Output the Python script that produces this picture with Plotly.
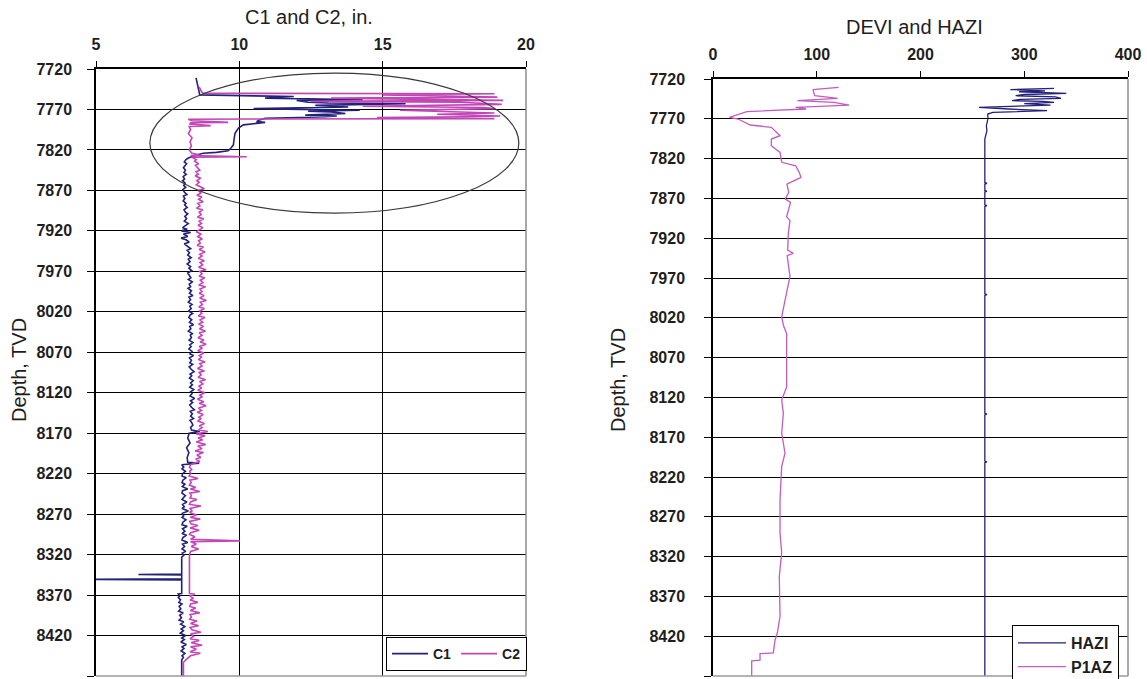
import plotly.graph_objects as go

# ---------------- data ----------------
c1_depth = [7731, 7743, 7752, 7754, 7756, 7758, 7759, 7761, 7762, 7763, 7764, 7765, 7767, 7769, 7770,
            7771, 7772, 7773, 7775, 7776, 7777, 7778, 7779, 7780, 7781, 7783, 7785, 7786, 7787, 7789,
            7793, 7799.5, 7806, 7814, 7818, 7821, 7823, 7824, 7826, 7828, 7830,
            7832, 7835, 7837, 7840, 7842, 7845, 7848, 7850, 7853, 7856, 7858, 7861, 7864, 7866, 7869,
            7872, 7875, 7877, 7880, 7883, 7886, 7888, 7891, 7894, 7897, 7899, 7902, 7905, 7908, 7911,
            7913, 7916, 7918, 7920, 7922, 7924, 7927, 7929, 7931, 7934, 7936, 7939, 7942, 7944, 7947,
            7950, 7953, 7955, 7958, 7961, 7964, 7966, 7969, 7972, 7975, 7978, 7980, 7983, 7986, 7989,
            7991, 7994, 7997, 8000, 8002, 8005, 8008, 8011, 8013, 8016, 8019, 8022, 8024, 8027, 8030,
            8033, 8036, 8038, 8041, 8044, 8047, 8049, 8052, 8055, 8058, 8061, 8063, 8066, 8069, 8072,
            8074, 8077, 8080, 8083, 8085, 8088, 8091, 8094, 8097, 8099, 8102, 8105, 8108, 8110, 8113,
            8116, 8119, 8121, 8124, 8127, 8130, 8132, 8135, 8138, 8141, 8143, 8146, 8149, 8152, 8154,
            8157, 8160, 8163, 8166, 8168, 8170, 8176, 8182, 8188, 8194, 8200, 8206, 8207, 8209,
            8212, 8214, 8217, 8220, 8223, 8225, 8228, 8231, 8233, 8236, 8239, 8241, 8244, 8247, 8250,
            8252, 8255, 8258, 8261, 8263, 8266, 8269, 8272, 8274, 8277, 8280, 8283, 8285, 8288, 8291,
            8294, 8296, 8299, 8302, 8305, 8307, 8310, 8313, 8316, 8318, 8321, 8323,
            8335, 8344, 8344.5, 8345, 8350, 8350.6, 8351.2, 8360, 8368, 8368.5,
            8371, 8373, 8376, 8379, 8381, 8384, 8387, 8390, 8392, 8395, 8398, 8401, 8403, 8406, 8409,
            8412, 8414, 8417, 8420, 8423, 8425, 8428, 8431, 8434, 8436, 8439, 8442, 8445, 8447, 8450,
            8470]
c1_value = [8.49, 8.55, 8.62, 11.9, 10.9, 14.3, 12.0, 12.4, 13.1, 15.8, 13.0, 12.65, 13.8, 10.5, 12.2,
            14.2, 12.4, 13.2, 13.7, 12.6, 12.3, 13.4, 13.0, 12.1, 10.9, 10.7, 10.6, 10.9, 10.6, 10.14,
            9.97, 9.85, 9.82, 9.79, 9.7, 9.61, 9.2, 8.74, 8.55, 8.39, 8.22,
            8.14, 8.08, 8.16, 8.1, 8.05, 8.12, 8.07, 8.15, 8.04, 8.09, 8.02, 8.11, 8.06, 8.13, 8.03,
            8.08, 8.17, 8.05, 8.1, 8.04, 8.14, 8.09, 8.18, 8.07, 8.12, 8.2, 8.1, 8.16, 8.08, 8.22,
            8.12, 8.02, 8.18, 7.98, 8.3, 8.05, 8.2, 7.97, 8.14, 8.25, 8.08, 8.2, 8.3, 8.18, 8.26,
            8.2, 8.32, 8.22, 8.28, 8.18, 8.3, 8.24, 8.34, 8.2, 8.27, 8.31, 8.22, 8.36, 8.25, 8.3,
            8.21, 8.33, 8.26, 8.38, 8.24, 8.3, 8.22, 8.35, 8.27, 8.32, 8.23, 8.37, 8.28, 8.24, 8.34,
            8.26, 8.4, 8.27, 8.31, 8.22, 8.36, 8.29, 8.33, 8.25, 8.38, 8.27, 8.32, 8.24, 8.35, 8.28,
            8.4, 8.26, 8.33, 8.27, 8.37, 8.25, 8.32, 8.42, 8.28, 8.34, 8.26, 8.39, 8.3, 8.36, 8.27,
            8.41, 8.3, 8.35, 8.28, 8.44, 8.3, 8.37, 8.27, 8.33, 8.43, 8.29, 8.36, 8.3, 8.4, 8.28,
            8.34, 8.38, 8.3, 8.33, 8.62, 8.25, 8.2, 8.28, 8.16, 8.24, 8.18, 8.2, 8.6, 7.99,
            8.06, 8.0, 8.12, 8.02, 8.0, 8.15, 8.03, 8.0, 8.1, 8.01, 8.2, 8.02, 8.0, 8.12, 8.04,
            8.0, 8.17, 8.02, 8.08, 8.0, 8.22, 8.01, 8.06, 8.0, 8.14, 8.03, 8.0, 8.18, 8.02, 8.1,
            8.0, 8.16, 8.03, 8.0, 8.2, 8.02, 8.09, 8.0, 8.13, 8.01, 8.06, 7.99,
            7.99, 7.99, 6.48, 7.99, 7.99, 4.0, 7.99, 7.99, 7.99, 7.87,
            7.92, 7.87, 7.95, 7.89, 8.0, 7.9, 7.96, 7.88, 8.04, 7.92, 7.98, 7.9, 8.06, 7.95, 8.1,
            7.97, 8.05, 7.94, 8.12, 7.99, 8.08, 7.96, 8.15, 8.0, 8.07, 7.97, 8.1, 8.0, 8.05, 7.99,
            7.99]

c2_depth = [7742, 7748, 7750, 7750.6, 7752, 7754.7, 7756, 7756.8, 7758.8, 7760, 7761, 7763.7, 7765, 7766,
            7767.5, 7769, 7771, 7772.5, 7774.4, 7776, 7778, 7779, 7780, 7781.3, 7782, 7784, 7786, 7786.5,
            7788, 7790, 7791, 7795, 7800, 7805, 7810, 7815, 7820, 7824, 7826, 7827, 7828.4, 7829,
            7832, 7834, 7837, 7839, 7842, 7845, 7847, 7850, 7852, 7855, 7858, 7860, 7863, 7866, 7868,
            7870, 7873, 7876, 7878, 7881, 7884, 7886, 7889, 7892, 7894, 7897, 7900, 7903, 7905, 7908,
            7911, 7913, 7916, 7919, 7921, 7924, 7927, 7930, 7932, 7935, 7938, 7940, 7943, 7946, 7949,
            7951, 7954, 7957, 7959, 7962, 7965, 7968, 7970, 7973, 7976, 7978, 7981, 7984, 7987, 7989,
            7992, 7995, 7997, 8000, 8003, 8006, 8008, 8011, 8014, 8016, 8019, 8022, 8025, 8027, 8030,
            8033, 8035, 8038, 8041, 8044, 8046, 8049, 8052, 8055, 8057, 8060, 8063, 8065, 8068, 8071,
            8074, 8076, 8079, 8082, 8084, 8087, 8090, 8093, 8095, 8098, 8101, 8104, 8106, 8109, 8112,
            8114, 8117, 8120, 8123, 8125, 8128, 8131, 8133, 8136, 8139, 8142, 8144, 8147, 8150, 8152,
            8155, 8158, 8161, 8163, 8166,
            8168, 8171, 8173, 8176, 8178, 8181, 8184, 8186, 8189, 8192, 8194, 8197, 8200, 8202, 8205,
            8207, 8209, 8212, 8215, 8217, 8220, 8223, 8226, 8228, 8231, 8234, 8237, 8239, 8242, 8244,
            8247, 8250, 8252, 8255, 8258, 8260, 8263, 8266, 8268, 8271, 8274, 8276, 8279, 8282, 8284,
            8287, 8290, 8293, 8295, 8298, 8301, 8303, 8304, 8307, 8310, 8313, 8316, 8319, 8323,
            8340, 8355, 8368, 8369,
            8371, 8374, 8376, 8379, 8381, 8384, 8386, 8389, 8392, 8394, 8397, 8400, 8402, 8405, 8408,
            8410, 8413, 8416, 8418, 8421, 8424, 8426, 8429, 8432, 8434, 8437, 8440, 8442, 8445, 8448,
            8453, 8470]
c2_value = [8.6, 8.68, 8.74, 18.9, 15.0, 19.0, 13.2, 15.7, 19.2, 12.5, 17.7, 19.15, 16.0, 14.3,
            18.5, 18.9, 15.6, 17.5, 18.9, 16.9, 19.1, 17.9, 14.8, 18.9, 8.22, 8.35, 9.61, 8.3,
            8.28, 9.0, 8.25, 8.3, 8.22, 8.35, 8.28, 8.33, 8.25, 8.35, 8.6, 8.3, 10.26, 8.35,
            8.5, 8.44, 8.58, 8.47, 8.55, 8.62, 8.49, 8.57, 8.46, 8.64, 8.52, 8.6, 8.5, 8.7, 8.78,
            8.56, 8.66, 8.52, 8.69, 8.58, 8.74, 8.55, 8.63, 8.51, 8.72, 8.6, 8.67, 8.54, 8.76, 8.6,
            8.68, 8.56, 8.73, 8.59, 8.5, 8.66, 8.55, 8.71, 8.58, 8.64, 8.53, 8.75, 8.6, 8.8, 8.62,
            8.7, 8.57, 8.78, 8.63, 8.72, 8.58, 8.84, 8.62, 8.7, 8.6, 8.79, 8.64, 8.73, 8.58, 8.82,
            8.63, 8.7, 8.6, 8.77, 8.62, 8.85, 8.64, 8.71, 8.59, 8.78, 8.62, 8.69, 8.57, 8.8, 8.63,
            8.72, 8.58, 8.75, 8.61, 8.82, 8.6, 8.7, 8.56, 8.77, 8.63, 8.84, 8.6, 8.71, 8.55, 8.76,
            8.6, 8.68, 8.57, 8.8, 8.62, 8.7, 8.54, 8.78, 8.6, 8.67, 8.56, 8.82, 8.61, 8.73, 8.58,
            8.69, 8.55, 8.79, 8.62, 8.7, 8.54, 8.76, 8.6, 8.84, 8.58, 8.68, 8.53, 8.74, 8.59, 8.66,
            8.56, 8.78, 8.6, 8.7, 8.58,
            8.9, 8.5, 8.8, 8.56, 8.72, 8.5, 8.83, 8.55, 8.7, 8.46, 8.75, 8.52, 8.66, 8.48, 8.62,
            8.4, 8.3, 8.26, 8.34, 8.27, 8.3, 8.25, 8.56, 8.28, 8.32, 8.26, 8.48, 8.29, 8.62, 8.27,
            8.33, 8.28, 8.52, 8.3, 8.26, 8.66, 8.28, 8.35, 8.27, 8.5, 8.29, 8.64, 8.27, 8.31, 8.55,
            8.28, 8.6, 8.3, 8.26, 8.45, 8.3, 10.02, 8.3, 8.5, 8.32, 8.58, 8.3, 8.27, 8.26,
            8.26, 8.26, 8.26, 8.45,
            8.27, 8.4, 8.28, 8.55, 8.3, 8.27, 8.48, 8.29, 8.62, 8.28, 8.33, 8.27, 8.52, 8.3, 8.58,
            8.28, 8.35, 8.66, 8.3, 8.4, 8.28, 8.6, 8.32, 8.7, 8.3, 8.5, 8.28, 8.64, 8.3, 8.2,
            8.05, 8.05]

hazi_depth = [7731.7, 7733.4, 7735, 7736, 7738, 7739.5, 7741, 7742.5, 7744.3, 7745.5, 7747.2, 7748,
              7749.3, 7751, 7752.7, 7755.6, 7757.7, 7759.8, 7762, 7764, 7770, 7778.7, 7785, 7795.4,
              7820, 7850, 7851, 7852, 7860, 7861, 7862, 7878, 7879, 7880, 7990, 7991, 7992, 8140,
              8141, 8142, 8200, 8201, 8202, 8470]
hazi_value = [328.7, 286.6, 320, 295, 340.5, 300, 291.7, 330, 335.4, 296, 288.3, 318,
              328.7, 300, 325.3, 256.4, 285, 322, 269.8, 264.8, 265, 263.5, 264, 262,
              262, 262, 264, 262, 262, 264, 262, 262, 264, 262, 262, 264, 262, 262,
              264, 262, 262, 264, 262, 262]

p1az_depth = [7730.5, 7733.4, 7737, 7741, 7744.3, 7747.2, 7749.3, 7752.7, 7755.6, 7757.7, 7761,
              7768.2, 7770.3, 7777.8, 7780.7, 7791.2, 7795.4, 7803.8, 7812.2, 7824.7, 7829,
              7837.3, 7843.6, 7852, 7862.4, 7870.8, 7875, 7893, 7898, 7914, 7935, 7939, 7942,
              7968, 7998, 8019, 8030, 8040, 8073, 8107, 8123, 8140, 8165, 8190, 8207, 8249, 8290,
              8315, 8345, 8374, 8395, 8416, 8425, 8441, 8442, 8450, 8451, 8470]
p1az_value = [121.1, 96.6, 97, 98.2, 120.1, 81.4, 116.7, 131.2, 79.7, 89.8, 32.6,
              15.8, 24.2, 36, 56.2, 64.6, 56.2, 56.2, 64.6, 66.3, 79.7,
              83.1, 84.8, 71.3, 73, 69.6, 74.7, 71.0, 74.2, 72.6, 72.0, 77.4, 71.5,
              74.2, 69.4, 66.2, 68, 71.0, 71.0, 71.0, 66.2, 67.8, 66.2, 69.4, 66.2, 64.6, 64.6,
              66.2, 63.9, 64.6, 64.6, 62.0, 59.8, 58.1, 45.3, 45.3, 37.3, 37.3]

# ellipse highlighting the washed-out interval (data coords of left panel)
ellipse_x = [6.88, 19.75]
ellipse_depth = [7725, 7898]

NAVY = "#23217a"
PINK = "#c246b6"
PINK2 = "#c45cbe"
FONT = "Liberation Sans, Arial, sans-serif"
W, H = 1147, 679

fig = go.Figure()
fig.add_trace(go.Scatter(x=c1_value, y=c1_depth, mode="lines", name="C1",
                         line=dict(color=NAVY, width=1.6), xaxis="x", yaxis="y", legend="legend"))
fig.add_trace(go.Scatter(x=c2_value, y=c2_depth, mode="lines", name="C2",
                         line=dict(color=PINK, width=1.6), xaxis="x", yaxis="y", legend="legend"))
fig.add_trace(go.Scatter(x=hazi_value, y=hazi_depth, mode="lines", name="HAZI",
                         line=dict(color=NAVY, width=1.3), xaxis="x2", yaxis="y2", legend="legend2"))
fig.add_trace(go.Scatter(x=p1az_value, y=p1az_depth, mode="lines", name="P1AZ",
                         line=dict(color=PINK2, width=1.3), xaxis="x2", yaxis="y2", legend="legend2"))

tickfont = dict(family=FONT, size=16, color="#1e1e1e", weight="bold")
common_y = dict(range=[8470, 7720], tick0=7720, dtick=50, showgrid=True, gridcolor="black",
                gridwidth=1.3, showline=True, linecolor="black", linewidth=1.5, ticks="outside",
                ticklen=7, tickcolor="black", zeroline=False, tickfont=tickfont, automargin=False)
common_x = dict(side="top", showline=True, linecolor="black", linewidth=1.5, ticks="outside",
                ticklen=6, tickcolor="black", zeroline=False, tickfont=tickfont,
                ticklabelstandoff=5, automargin=False)

fig.update_layout(
    width=W, height=H, margin=dict(l=0, r=0, t=0, b=0, autoexpand=False),
    paper_bgcolor="white", plot_bgcolor="white",
    xaxis=dict(domain=[96 / W, 526 / W], range=[5, 20], dtick=5, anchor="y",
               showgrid=True, gridcolor="black", gridwidth=1.3, **common_x),
    yaxis=dict(domain=[1 - 676 / H, 1 - 69 / H], anchor="x", ticklabelstandoff=12, **common_y),
    xaxis2=dict(domain=[713 / W, 1128 / W], range=[0, 400], dtick=100, anchor="y2",
                showgrid=False, **common_x),
    yaxis2=dict(domain=[1 - 676 / H, 1 - 79 / H], anchor="x2", ticklabelstandoff=16, **common_y),
    legend=dict(orientation="h", x=386 / W, y=1 - 654 / H, xanchor="left", yanchor="middle",
                bgcolor="white", bordercolor="black", borderwidth=1,
                font=dict(family=FONT, size=14, color="#1e1e1e", weight="bold"),
                itemwidth=36, tracegroupgap=0),
    legend2=dict(orientation="v", x=1012 / W, y=1 - 625 / H, xanchor="left", yanchor="top",
                 bgcolor="white", bordercolor="black", borderwidth=1,
                 font=dict(family=FONT, size=16, color="#1e1e1e", weight="bold"),
                 itemwidth=48, tracegroupgap=0),
    showlegend=True,
)

# right / bottom borders (grey) of both panels
for xr, yr in (("x", "y"), ("x2", "y2")):
    fig.add_shape(type="line", xref=f"{xr} domain", yref=f"{yr} domain", x0=1, x1=1, y0=0, y1=1,
                  line=dict(color="#8c8c8c", width=1.5), layer="above")
    fig.add_shape(type="line", xref=f"{xr} domain", yref=f"{yr} domain", x0=0, x1=1, y0=0, y1=0,
                  line=dict(color="#9a9a9a", width=1.5), layer="above")

# ellipse
fig.add_shape(type="circle", xref="x", yref="y", x0=ellipse_x[0], x1=ellipse_x[1],
              y0=ellipse_depth[0], y1=ellipse_depth[1], line=dict(color="#3a3a3a", width=1.2),
              layer="above")

# titles
ann_font = dict(family=FONT, size=20, color="#1e1e1e")
for text, px, py, ang in (("C1 and C2, in.", 309, 17, 0), ("DEVI and HAZI", 914, 27, 0),
                          ("Depth, TVD", 19, 370, -90), ("Depth, TVD", 618, 380, -90)):
    fig.add_annotation(text=text, x=px / W, y=1 - py / H, xref="paper", yref="paper",
                       xanchor="center", yanchor="middle", showarrow=False, textangle=ang,
                       font=ann_font)

fig.write_html("out.html")
